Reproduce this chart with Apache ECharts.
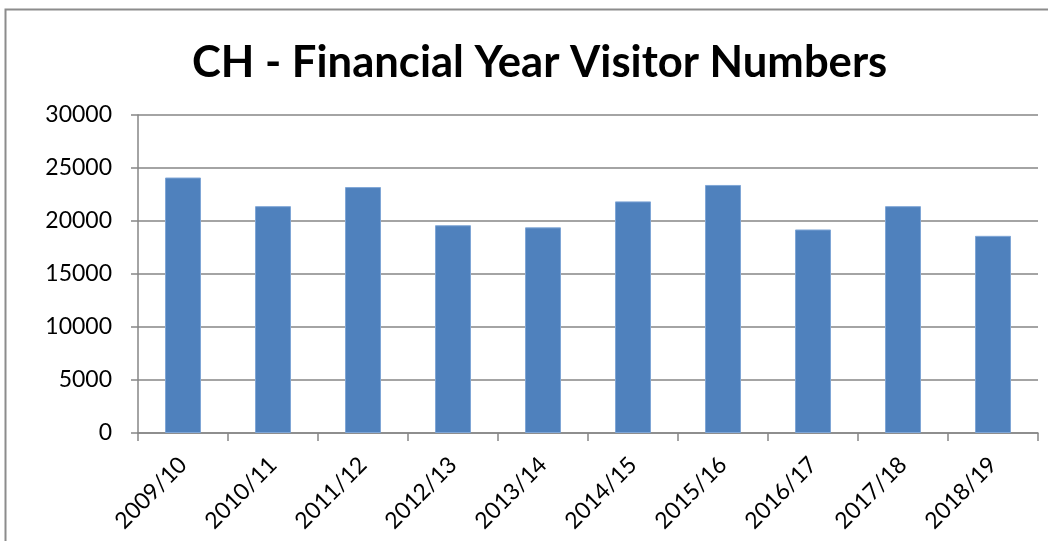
<!DOCTYPE html>
<html><head><meta charset="utf-8">
<script src="https://cdn.jsdelivr.net/npm/echarts@6/dist/echarts.min.js"></script>
<style>html,body{margin:0;padding:0;background:#fff}#c{width:1048px;height:541px}</style>
</head><body><div id="c"></div>
<script>
const categories = ['2009/10','2010/11','2011/12','2012/13','2013/14','2014/15','2015/16','2016/17','2017/18','2018/19'];
const visitors = [24100, 21400, 23200, 19600, 19400, 21850, 23400, 19200, 21400, 18600];
const yTicks = {min: 0, max: 30000, interval: 5000};
const titleText = 'CH - Financial Year Visitor Numbers';

const chart = echarts.init(document.getElementById('c'), null, {renderer: 'canvas'});
chart.setOption({
  animation: false,
  backgroundColor: '#fff',
  graphic: [{type: 'rect', shape: {x: 5.5, y: 9.5, width: 1100, height: 600}, style: {fill: 'none', stroke: '#8c8c8c', lineWidth: 2}, silent: true}],
  title: {text: titleText, left: 187, top: 36,
    textStyle: {fontFamily: 'Lato', fontWeight: 'bold', fontSize: 43.6, color: '#000'}},
  grid: {left: 138, right: 10, top: 115, bottom: 108, containLabel: false},
  xAxis: {type: 'category', data: categories, boundaryGap: true,
    axisLine: {lineStyle: {color: '#868686', width: 1.5}},
    axisTick: {show: true, alignWithLabel: false, length: 8, lineStyle: {color: '#868686', width: 1.5}},
    axisLabel: {rotate: 45, fontFamily: 'Lato', fontSize: 23, color: '#000', margin: 28, interval: 0}},
  yAxis: {type: 'value', min: yTicks.min, max: yTicks.max, interval: yTicks.interval,
    axisLine: {show: true, lineStyle: {color: '#868686', width: 1.5}},
    axisTick: {show: true, length: 7, lineStyle: {color: '#868686', width: 1.5}},
    splitLine: {lineStyle: {color: '#868686', width: 1.5}},
    axisLabel: {fontFamily: 'Lato', fontSize: 23, color: '#000', margin: 26, formatter: v => String(v)}},
  series: [{type: 'bar', data: visitors, barWidth: '40%',
    itemStyle: {color: '#4F81BD', borderColor: '#7FA6D6', borderWidth: 1}}]
});
</script></body></html>
